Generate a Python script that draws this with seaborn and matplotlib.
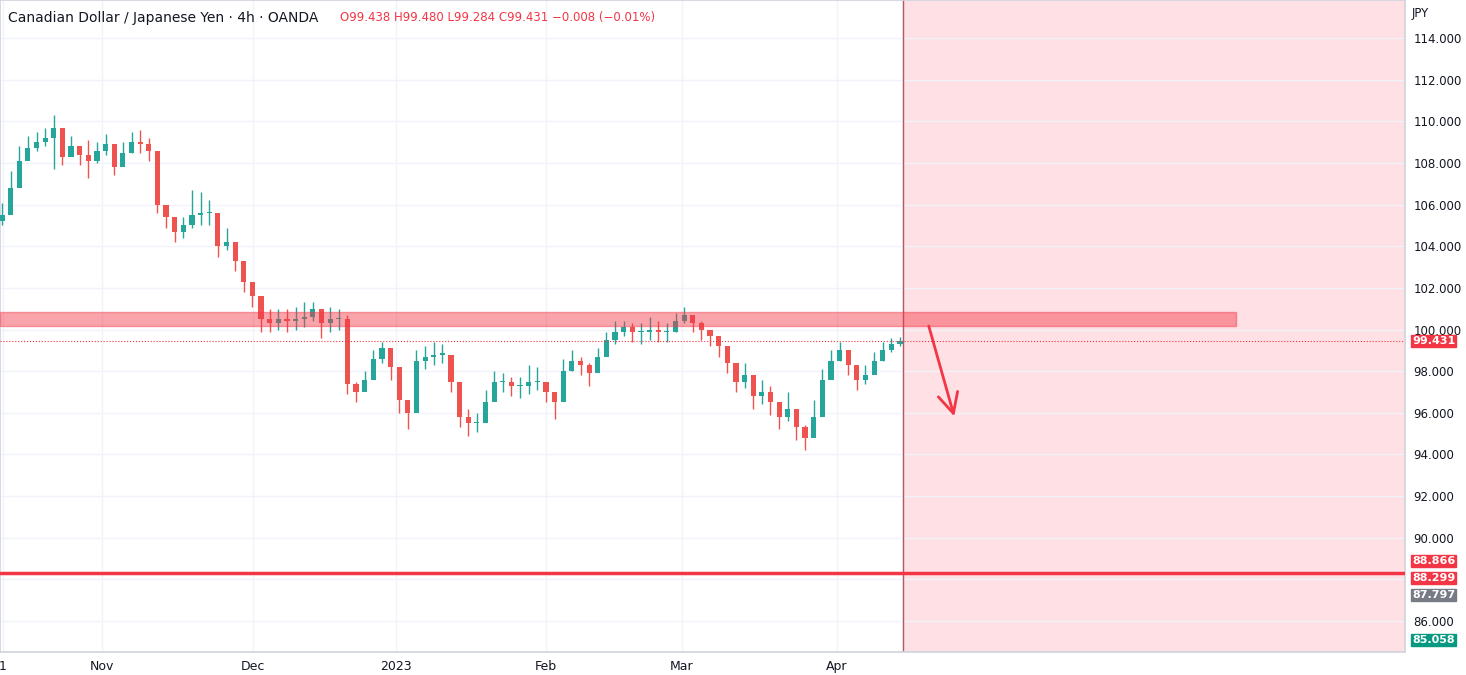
import matplotlib
matplotlib.use("Agg")
import matplotlib.pyplot as plt
import seaborn as sns
from matplotlib.patches import Rectangle

closes = [105.5,106.8,108.1,108.7,109.0,109.2,109.7,108.3,108.8,108.4,108.1,108.6,108.9,107.8,108.5,109.0,108.9,108.6,106.0,105.4,
          104.7,105.0,105.5,105.6,105.6,104.0,104.2,103.3,102.3,101.6,100.5,100.3,100.5,100.4,100.5,100.6,101.0,100.3,100.5,100.5,
          97.4,97.0,97.6,98.6,99.1,98.2,96.6,96.0,98.5,98.7,98.8,98.8,97.5,95.8,95.5,95.5,96.5,97.5,97.5,97.3,
          97.3,97.5,97.5,97.0,96.5,98.0,98.5,98.3,97.9,98.7,99.5,99.9,100.1,99.9,99.9,100.0,99.9,99.9,100.4,100.7,
          100.3,100.0,99.7,99.2,98.4,97.5,97.8,96.8,97.0,96.5,95.8,96.2,95.3,94.8,95.8,97.6,98.5,99.0,98.3,97.6,
          97.8,98.5,99.0,99.3,99.43]
highs = [c + w for c, w in zip(closes, [0.6,0.8,0.7,0.6,0.5,0.5,0.6,0.5,0.5,0.4,1.0,0.4,0.5,0.6,0.5,0.5,0.7,0.6,0.5,0.4,0.4,0.4,1.2,1.0,0.6,0.7,0.7,0.5,0.5,0.4,0.4,0.7,0.5,0.6,0.6,0.7,0.3,0.6,0.6,0.5,3.3,0.5,0.4,0.4,0.3,0.6,0.4,0.4,0.5,0.5,0.6,0.5,0.3,0.7,0.7,0.5,0.6,0.5,0.4,0.4,0.4,0.8,0.7,0.5,0.5,0.6,0.5,0.4,0.5,0.4,0.4,0.5,0.3,0.4,0.4,0.6,0.5,0.4,0.4,0.4,0.3,0.4,0.3,0.5,0.5,0.5,0.6,0.7,0.6,0.8,0.5,0.8,0.6,0.6,0.8,0.5,0.5,0.4,0.4,0.5,0.5,0.4,0.4,0.3,0.2])]
lows = [c - w for c, w in zip(closes, [0.5,0.6,0.5,0.4,0.4,0.4,2.0,0.4,0.4,0.5,0.8,0.6,0.5,0.4,0.4,0.5,0.4,0.5,0.4,0.5,0.5,0.6,0.6,0.6,0.6,0.5,0.4,0.5,0.5,0.5,0.6,0.4,0.5,0.5,0.5,0.5,0.6,0.7,0.6,0.5,0.5,0.5,0.5,0.6,0.7,0.6,0.6,0.8,1.5,0.6,0.5,0.4,0.5,0.5,0.6,0.4,0.5,0.5,0.5,0.5,0.6,0.6,0.4,0.5,0.8,0.5,0.5,0.5,0.6,0.5,0.5,0.6,0.4,0.5,0.6,0.5,0.5,0.5,0.5,0.4,0.4,0.5,0.5,0.5,0.5,0.5,0.6,0.6,0.6,0.6,0.6,0.6,0.6,0.6,0.4,0.5,0.5,0.5,0.5,0.5,0.4,0.4,0.5,0.4,0.2])]

tick_lbl = ["1", "Nov", "Dec", "2023", "Feb", "Mar", "Apr"]
tick_px = [3, 102, 253, 396, 546, 682, 837]
ylevels = list(range(86, 115, 2))
last_price = 99.431
support = 88.299
zone = (100.17, 100.85)
badges = [(341, "99.431", "#f23645"), (561, "88.866", "#f23645"),
          (578, "88.299", "#f23645"), (595, "87.797", "#787b86"),
          (640, "85.058", "#089981")]

sns.set_theme(style="white")
plt.rcParams['font.family'] = ['DejaVu Sans']
fig = plt.figure(figsize=(14.66, 6.75), dpi=100)
ax = fig.add_axes([0, 1 - 652/675, 1405/1466, 652/675])
n = len(closes)
u = (n - 1) / 898.0          # data units per pixel
px = lambda p: p * u
xmax = px(1405)
ax.set_xlim(0, xmax)
ax.set_ylim(84.51, 115.83)
vline = px(903)
ax.axvspan(vline, xmax, color="#ffe0e4", zorder=0)
ax.axvline(vline, color="#b05a68", lw=1, zorder=1)
for y in ylevels:
    ax.axhline(y, color="#f0f3fa", lw=1, zorder=0.5)
tick_pos = [px(p) for p in tick_px]
for t in tick_pos:
    ax.axvline(t, color="#f0f3fa", lw=1, zorder=0.5)

prev = closes[0] - 0.3
for i in range(n):
    o, c = prev, closes[i]
    col = "#26a69a" if c >= o else "#ef5350"
    x = px(2) + i
    ax.vlines(x, lows[i], highs[i], color=col, lw=1, zorder=3)
    ax.add_patch(Rectangle((x - 0.3, min(o, c)), 0.6, max(abs(c - o), 0.05), color=col, lw=0, zorder=3))
    prev = c

ax.add_patch(Rectangle((0, zone[0]), px(1236), zone[1] - zone[0], facecolor="#f23645", alpha=0.45,
                       edgecolor="#f23645", lw=1, zorder=4))
ax.axhline(support, color="#f23645", lw=2.5, zorder=5)
ax.axhline(last_price, color="#f23645", lw=0.8, ls=":", zorder=5)
ax.annotate("", xy=(px(955), 95.7), xytext=(px(928), 100.3),
            arrowprops=dict(arrowstyle="->,head_length=1.2,head_width=0.6", color="#f23645", lw=2),
            zorder=6)

ax.set_xticks(tick_pos)
ax.set_xticklabels(tick_lbl, fontsize=9, color="#131722")
ax.yaxis.tick_right()
ax.set_yticks(ylevels)
ax.set_yticklabels([f"{y:.3f}" for y in ylevels], fontsize=8.5, color="#131722")
ax.tick_params(length=0, pad=6)
for s in ax.spines.values():
    s.set_color("#d1d4dc")
for ypx, t, c in badges:
    fig.text(1412/1466, 1 - ypx/675, t, fontsize=8,
             color="white", fontweight="bold", va="center", ha="left",
             bbox=dict(boxstyle="square,pad=0.1", fc=c, ec=c))
fig.text(1412/1466, 1 - 13/675, "JPY", fontsize=8.5, color="#131722", va="center")
fig.text(8/1466, 1 - 18/675, "Canadian Dollar / Japanese Yen · 4h · OANDA", fontsize=10,
         color="#131722", va="center")
fig.text(340/1466, 1 - 18/675, "O99.438 H99.480 L99.284 C99.431 −0.008 (−0.01%)", fontsize=8.5,
         color="#f23645", va="center")
fig.savefig("out.png", dpi=100)
